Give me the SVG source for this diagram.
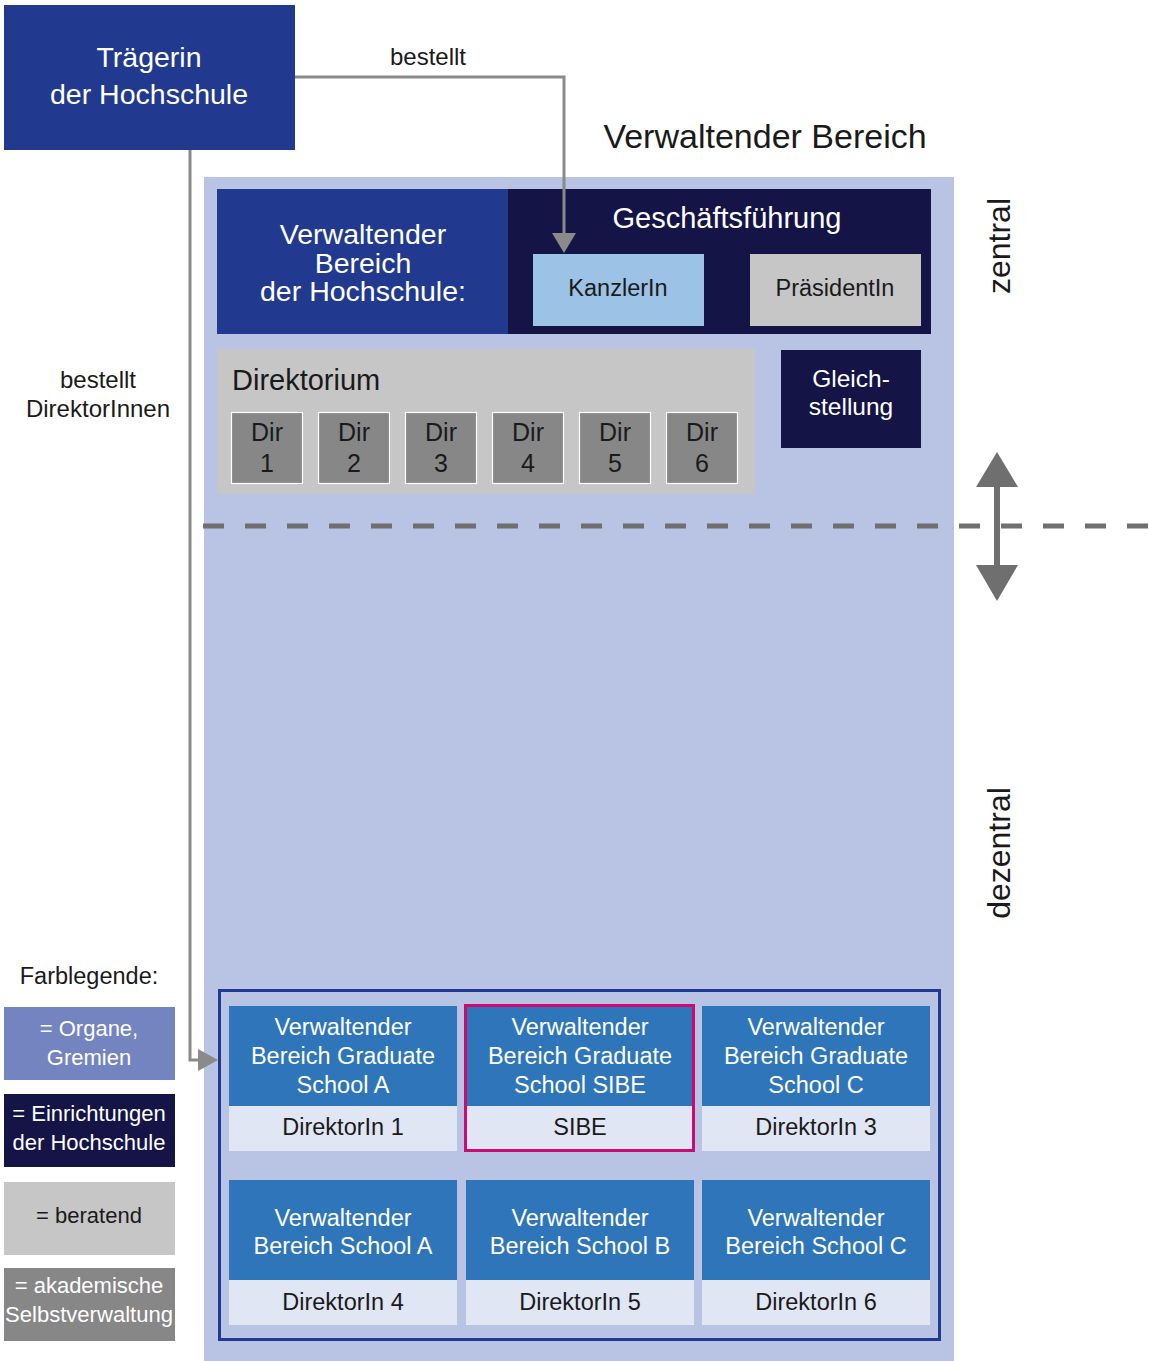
<svg xmlns="http://www.w3.org/2000/svg" width="1149" height="1361" viewBox="0 0 1149 1361">
<style>
text{font-family:"Liberation Sans",Arial,sans-serif;text-anchor:middle}
.w{fill:#ffffff}
.k{fill:#1a1a1a}
.dblue{fill:#213a8f}
.navy{fill:#141447}
.lgray{fill:#c6c6c6}
.dgray{fill:#878787;stroke:#ffffff;stroke-width:1.2}
.sb{fill:#2e75b9}
.sl{fill:#e1e6f5}
.conn{fill:none;stroke:#8a8a8a;stroke-width:3}
.s24{font-size:23.5px}
.s22{font-size:22px}
</style>
<rect width="1149" height="1361" fill="#ffffff"/>
<rect id="bg" x="204" y="177" width="750" height="1184" fill="#b9c3e3"/>
<text x="765" y="148" class="k" style="font-size:34px">Verwaltender Bereich</text>
<text transform="translate(1010,246) rotate(-90)" class="k" style="font-size:32px">zentral</text>
<text transform="translate(1010,853) rotate(-90)" class="k" style="font-size:32px">dezentral</text>

<g id="traegerin">
<rect x="4" y="5" width="291" height="145" class="dblue"/>
<text x="149" y="67" class="w" style="font-size:28.5px">Trägerin</text>
<text x="149" y="104" class="w" style="font-size:28.5px">der Hochschule</text>
</g>

<g id="verwaltender-bereich-hochschule">
<rect x="217" y="189" width="291" height="145" class="dblue"/>
<text x="363" y="244" class="w" style="font-size:28.5px">Verwaltender</text>
<text x="363" y="273" class="w" style="font-size:28.5px">Bereich</text>
<text x="363" y="301" class="w" style="font-size:28.5px">der Hochschule:</text>
</g>
<g id="geschaeftsfuehrung">
<rect x="508" y="189" width="423" height="145" class="navy"/>
<text x="727" y="228" class="w" style="font-size:29px">Geschäftsführung</text>
</g>
<g id="kanzlerin">
<rect x="533" y="254" width="171" height="72" fill="#9cc2e5"/>
<text x="618" y="296" class="k" style="font-size:23.5px">KanzlerIn</text>
</g>
<g id="praesidentin">
<rect x="750" y="254" width="171" height="72" class="lgray"/>
<text x="835" y="296" class="k" style="font-size:23.5px">PräsidentIn</text>
</g>

<g id="direktorium">
<rect x="217" y="349" width="538" height="145" class="lgray"/>
<text x="232" y="390" class="k" style="font-size:29px;text-anchor:start">Direktorium</text>
</g>
<g id="dir1"><rect x="231.5" y="412.5" width="71" height="71" class="dgray"/><text x="267" y="441" class="k" style="font-size:25px">Dir</text><text x="267" y="472" class="k" style="font-size:25px">1</text></g>
<g id="dir2"><rect x="318.5" y="412.5" width="71" height="71" class="dgray"/><text x="354" y="441" class="k" style="font-size:25px">Dir</text><text x="354" y="472" class="k" style="font-size:25px">2</text></g>
<g id="dir3"><rect x="405.5" y="412.5" width="71" height="71" class="dgray"/><text x="441" y="441" class="k" style="font-size:25px">Dir</text><text x="441" y="472" class="k" style="font-size:25px">3</text></g>
<g id="dir4"><rect x="492.5" y="412.5" width="71" height="71" class="dgray"/><text x="528" y="441" class="k" style="font-size:25px">Dir</text><text x="528" y="472" class="k" style="font-size:25px">4</text></g>
<g id="dir5"><rect x="579.5" y="412.5" width="71" height="71" class="dgray"/><text x="615" y="441" class="k" style="font-size:25px">Dir</text><text x="615" y="472" class="k" style="font-size:25px">5</text></g>
<g id="dir6"><rect x="666.5" y="412.5" width="71" height="71" class="dgray"/><text x="702" y="441" class="k" style="font-size:25px">Dir</text><text x="702" y="472" class="k" style="font-size:25px">6</text></g>

<g id="gleichstellung">
<rect x="781" y="350" width="140" height="98" class="navy"/>
<text x="851" y="387" class="w" style="font-size:24.5px">Gleich-</text>
<text x="851" y="415" class="w" style="font-size:24.5px">stellung</text>
</g>

<g id="divider">
<line x1="203" y1="526" x2="1149" y2="526" stroke="#6f6f6f" stroke-width="5" stroke-dasharray="21 21"/>
<line x1="997" y1="480" x2="997" y2="572" stroke="#6f6f6f" stroke-width="6"/>
<polygon points="976,487 1018,487 997,452" fill="#6f6f6f"/>
<polygon points="976,565 1018,565 997,601" fill="#6f6f6f"/>
</g>

<text x="98" y="388" class="k" style="font-size:24px">bestellt</text>
<text x="98" y="417" class="k" style="font-size:24px">DirektorInnen</text>

<g id="schools-container">
<rect x="219.5" y="990.5" width="720" height="349" fill="none" stroke="#213a8f" stroke-width="3"/>
</g>
<g id="school-gs-a">
<rect x="229" y="1006" width="228" height="100" class="sb"/><rect x="229" y="1106" width="228" height="45" class="sl"/>
<text x="343" y="1035" class="w s24">Verwaltender</text><text x="343" y="1064" class="w s24">Bereich Graduate</text><text x="343" y="1093" class="w s24">School A</text>
<text x="343" y="1135" class="k s24">DirektorIn 1</text>
</g>
<g id="school-gs-sibe">
<rect x="466" y="1006" width="228" height="100" class="sb"/><rect x="466" y="1106" width="228" height="45" class="sl"/>
<rect x="465.5" y="1005.5" width="228" height="145" fill="none" stroke="#cc0a6f" stroke-width="3"/>
<text x="580" y="1035" class="w s24">Verwaltender</text><text x="580" y="1064" class="w s24">Bereich Graduate</text><text x="580" y="1093" class="w s24">School SIBE</text>
<text x="580" y="1135" class="k s24">SIBE</text>
</g>
<g id="school-gs-c">
<rect x="702" y="1006" width="228" height="100" class="sb"/><rect x="702" y="1106" width="228" height="45" class="sl"/>
<text x="816" y="1035" class="w s24">Verwaltender</text><text x="816" y="1064" class="w s24">Bereich Graduate</text><text x="816" y="1093" class="w s24">School C</text>
<text x="816" y="1135" class="k s24">DirektorIn 3</text>
</g>
<g id="school-a">
<rect x="229" y="1180" width="228" height="100" class="sb"/><rect x="229" y="1280" width="228" height="45" class="sl"/>
<text x="343" y="1226" class="w s24">Verwaltender</text><text x="343" y="1254" class="w s24">Bereich School A</text>
<text x="343" y="1310" class="k s24">DirektorIn 4</text>
</g>
<g id="school-b">
<rect x="466" y="1180" width="228" height="100" class="sb"/><rect x="466" y="1280" width="228" height="45" class="sl"/>
<text x="580" y="1226" class="w s24">Verwaltender</text><text x="580" y="1254" class="w s24">Bereich School B</text>
<text x="580" y="1310" class="k s24">DirektorIn 5</text>
</g>
<g id="school-c">
<rect x="702" y="1180" width="228" height="100" class="sb"/><rect x="702" y="1280" width="228" height="45" class="sl"/>
<text x="816" y="1226" class="w s24">Verwaltender</text><text x="816" y="1254" class="w s24">Bereich School C</text>
<text x="816" y="1310" class="k s24">DirektorIn 6</text>
</g>

<g id="legend">
<text x="89" y="984" class="k" style="font-size:23.5px">Farblegende:</text>
<rect x="4" y="1007" width="171" height="73" fill="#7484c1"/>
<text x="89" y="1036" class="w s22">= Organe,</text><text x="89" y="1065" class="w s22">Gremien</text>
<rect x="4" y="1094" width="171" height="73" class="navy"/>
<text x="89" y="1121" class="w s22">= Einrichtungen</text><text x="89" y="1150" class="w s22">der Hochschule</text>
<rect x="4" y="1182" width="171" height="73" class="lgray"/>
<text x="89" y="1223" class="k s22">= beratend</text>
<rect x="4" y="1268" width="171" height="73" fill="#878787"/>
<text x="89" y="1293" class="w s22">= akademische</text><text x="89" y="1322" class="w s22" textLength="168" lengthAdjust="spacingAndGlyphs">Selbstverwaltung</text>
</g>

<g id="connectors">
<polyline points="295,77 564,77 564,236" class="conn"/>
<polygon points="552,233 576,233 564,253" fill="#8a8a8a"/>
<text x="428" y="65" class="k" style="font-size:24px">bestellt</text>
<polyline points="190,150 190,1060 200,1060" class="conn"/>
<polygon points="198,1049 218,1060 198,1071" fill="#8a8a8a"/>
</g>
</svg>
